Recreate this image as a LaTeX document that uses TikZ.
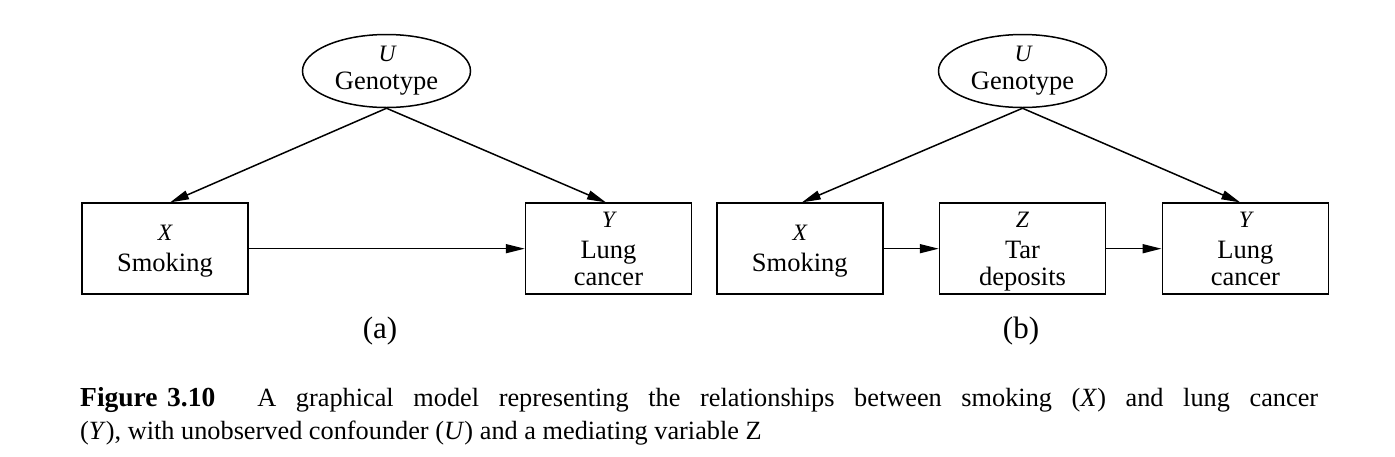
\documentclass[tikz,border=0pt]{standalone}
\usepackage{fontspec}
\setmainfont{Liberation Serif}
\usetikzlibrary{shapes.geometric,arrows.meta,calc}
\begin{document}
\begin{tikzpicture}[x=1pt,y=-1pt,
  lw/.style={line width=1.5pt},
  box/.style={draw,lw,rectangle,minimum width=166pt,minimum height=91pt,inner sep=0pt},
  oval/.style={draw,lw,ellipse,minimum width=168pt,minimum height=73pt,inner sep=0pt},
  arr/.style={lw,-{Triangle[length=19pt,width=9pt]}},
  txt/.style={anchor=base,inner sep=0pt,font=\fontsize{26.5}{30}\selectfont},
  var/.style={anchor=base,inner sep=0pt,font=\fontsize{23.5}{26}\selectfont\itshape},
  plab/.style={anchor=base,inner sep=0pt,font=\fontsize{31}{36}\selectfont},
  captext/.style={anchor=base west,inner sep=0pt,font=\fontsize{26.3}{33}\selectfont}]
\useasboundingbox (0,0) rectangle (1395,456);
% ---------- panel (a)
\node[oval] (Ua) at (386.5,71) {};
\node[var] (Ua1) at (387,61) {U};
\node[txt] (Ua2) at (386.5,89) {Genotype};
\node[box] (Xa) at (165,248.7) {};
\node[var] (Xa1) at (165,240) {X};
\node[txt] (Xa2) at (165,271) {Smoking};
\node[box] (Ya) at (608.5,248.7) {};
\node[var] (Ya1) at (608.5,227) {Y};
\node[txt] (Ya2) at (608.5,258) {Lung};
\node[txt] (Ya3) at (608.5,285) {cancer};
\draw[arr] (Ua.south) -- ($(Xa.north)+(5,0)$);
\draw[arr] (Ua.south) -- ($(Ya.north)+(-2.5,0)$);
\draw[arr] (Xa.east) -- (Ya.west);
\node[plab] (la) at (380,338) {(a)};
% ---------- panel (b)
\node[oval] (Ub) at (1022.5,71) {};
\node[var] (Ub1) at (1023,61) {U};
\node[txt] (Ub2) at (1022.5,89) {Genotype};
\node[box] (Xb) at (799.8,248.7) {};
\node[var] (Xb1) at (799.8,240) {X};
\node[txt] (Xb2) at (799.8,271) {Smoking};
\node[box] (Zb) at (1022.5,248.7) {};
\node[var] (Zb1) at (1022.5,227) {Z};
\node[txt] (Zb2) at (1022.5,258) {Tar};
\node[txt] (Zb3) at (1022.5,285) {deposits};
\node[box] (Yb) at (1245.3,248.7) {};
\node[var] (Yb1) at (1245.3,227) {Y};
\node[txt] (Yb2) at (1245.3,258) {Lung};
\node[txt] (Yb3) at (1245.3,285) {cancer};
\draw[arr] (Ub.south) -- ($(Xb.north)+(2,0)$);
\draw[arr] (Ub.south) -- ($(Yb.north)+(-5,0)$);
\draw[arr] (Xb.east) -- (Zb.west);
\draw[arr] (Zb.east) -- (Yb.west);
\node[plab] (lb) at (1021,338) {(b)};
% ---------- caption
\node[captext] (cap1) at (80,406) {\makebox[1238pt][s]{{\fontsize{27.5}{33}\selectfont\bfseries Figure\hspace{0.35em}3.10}\hspace{42pt}A graphical model representing the relationships between smoking (\textit{X}) and lung cancer}};
\node[captext] (cap2) at (80,439) {(\textit{Y}), with unobserved confounder (\textit{U}) and a mediating variable Z};
\end{tikzpicture}
\end{document}
